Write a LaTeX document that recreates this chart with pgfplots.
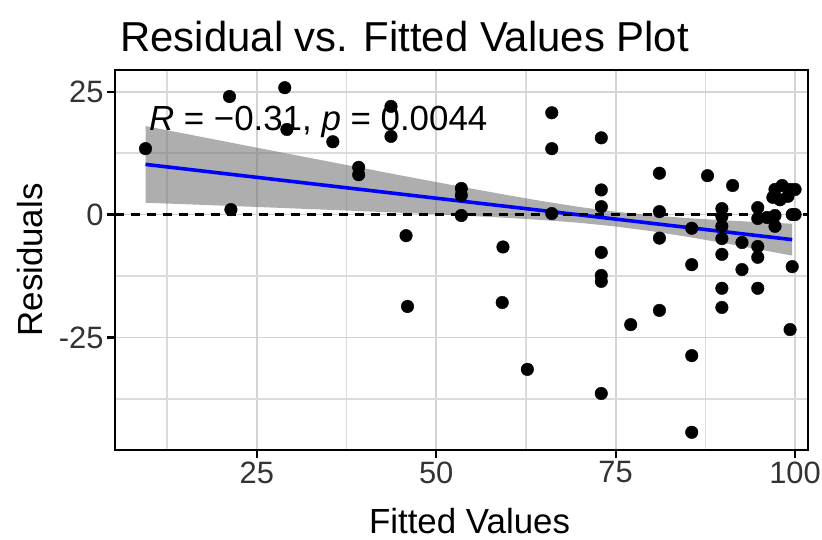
\documentclass[border=0pt]{standalone}
\usepackage{fontspec}
\setmainfont{Liberation Sans}
\usepackage{pgfplots}
\pgfplotsset{compat=1.18}
\begin{document}
\begin{tikzpicture}
\begin{axis}[
  scale only axis, width=693bp, height=380bp,
  xmin=5.25, xmax=101.8, ymin=-47.9, ymax=29.4,
  xtick={25,50,75,100}, ytick={-25,0,25},
  minor xtick={12.5,37.5,62.5,87.5}, minor ytick={-37.5,-12.5,12.5},
  grid=both,
  major grid style={line width=1.8bp, color=black!17},
  minor grid style={line width=1.3bp, color=black!14},
  axis line style={line width=2.6bp, black},
  tick align=outside,
  major tick length=8bp, minor tick length=0pt,
  tick style={line width=2.2bp, black},
  xtick pos=lower, ytick pos=left,
  /pgf/number format/assume math mode=true,
  ticklabel style={font=\fontsize{31}{31}\selectfont, text=black!80},
]
% confidence band
\addplot[fill=black!55, fill opacity=0.58, draw=none] coordinates {
 (9.5,18.0) (15,16.44) (20,15.02) (25,13.60) (30,12.19) (35,10.78) (40,9.38)
 (45,7.98) (50,6.60) (55,5.25) (60,3.93) (65,2.67) (70,1.53) (75,0.57)
 (80,-0.17) (85,-0.73) (90,-1.17) (95,-1.55) (99.6,-1.87)
 (99.6,-8.35) (95,-7.11) (90,-5.79) (85,-4.53) (80,-3.39) (75,-2.43)
 (70,-1.69) (65,-1.13) (60,-0.69) (55,-0.31) (50,0.04) (45,0.36) (40,0.66)
 (35,0.96) (30,1.25) (25,1.54) (20,1.82) (15,2.10) (9.5,2.4)
} -- cycle;
% residual points
\addplot[only marks, mark=*, mark size=6.3bp, black] coordinates {
 (9.5,13.4) (21.2,24.0) (21.4,1.0) (28.9,25.8) (29.2,17.3) (35.6,14.8)
 (39.2,9.6) (39.2,8.1) (43.7,22.0) (43.7,15.9) (45.8,-4.3) (46.0,-18.7)
 (53.5,5.3) (53.5,3.9) (53.5,-0.2) (59.3,-6.6) (59.2,-17.9) (62.7,-31.5)
 (66.1,20.7) (66.1,13.4) (66.1,0.2)
 (73.0,15.6) (73.0,5.0) (73.0,1.6) (73.0,-7.7) (73.0,-12.4) (73.0,-13.6) (73.0,-36.4)
 (77.1,-22.4)
 (81.1,8.4) (81.1,0.6) (81.1,-4.8) (81.1,-19.5)
 (87.8,7.9) (85.6,-2.8) (85.6,-10.2) (85.6,-28.7) (85.6,-44.3)
 (91.3,5.9)
 (89.8,1.2) (89.8,-0.4) (89.8,-2.4) (89.8,-4.9) (89.8,-8.1) (89.8,-15.0) (89.8,-18.9)
 (92.6,-5.7) (92.6,-11.2)
 (94.8,1.4) (94.8,-0.8) (94.8,-6.5) (94.8,-8.7) (94.8,-15.0)
 (97.2,5.1) (98.2,5.9) (99.3,5.1) (96.9,3.5) (97.9,3.0) (99.0,3.7) (100.0,5.1)
 (96.1,-0.6) (97.2,-2.4) (97.2,-0.2) (99.6,0.0) (100.0,0.0)
 (99.6,-10.6) (99.3,-23.4)
};
% regression line
\addplot[color={rgb,255:red,0;green,0;blue,255}, line width=3.6bp] coordinates {(9.5,10.2) (99.6,-5.11)};
% zero line
\addplot[black, line width=2.4bp, dash pattern=on 9bp off 7bp] coordinates {(5.25,0) (101.8,0)};
\node[anchor=base west, font=\fontsize{35}{35}\selectfont] at (axis cs:9.5,17.1) {\textit{R} = −0.31, \textit{p} = 0.0044};
\end{axis}
\node[anchor=base west, font=\fontsize{42}{42}\selectfont] at ([shift={(2bp,18bp)}]current axis.north west) {Residual vs. Fitted Values Plot};
\node[anchor=base, font=\fontsize{35}{35}\selectfont] at ([shift={(8bp,-83bp)}]current axis.south) {Fitted Values};
\node[rotate=90, anchor=base, font=\fontsize{35}{35}\selectfont] at ([xshift=-72bp]current axis.west) {Residuals};
\pgfresetboundingbox
\path ([shift={(-115bp,-90bp)}]current axis.south west) rectangle ([shift={(14bp,70bp)}]current axis.north east);
\end{tikzpicture}
\end{document}
